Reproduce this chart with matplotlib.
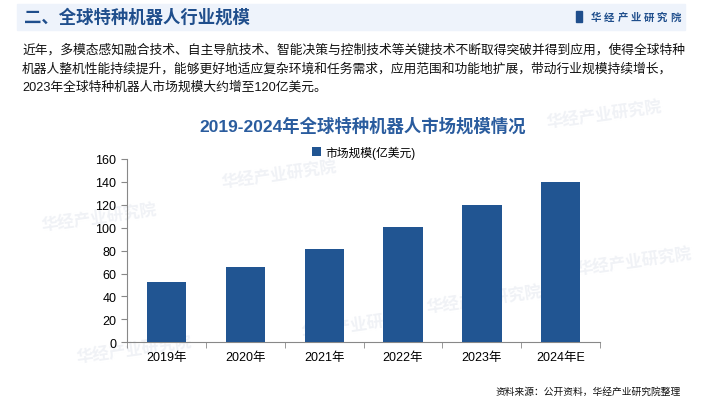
import numpy as np
import matplotlib.pyplot as plt
from matplotlib.patches import Rectangle

plt.rcParams['font.family'] = ['Liberation Sans', 'Noto Sans CJK SC', 'DejaVu Sans']

# datos
years = ['2019年', '2020年', '2021年', '2022年', '2023年', '2024年E']
market = [52.6, 65.7, 81.4, 100.6, 119.8, 139.9]
yticks = [0, 20, 40, 60, 80, 100, 120, 140, 160]

header = '二、全球特种机器人行业规模'
logo = '华经产业研究院'
para = ['近年，多模态感知融合技术、自主导航技术、智能决策与控制技术等关键技术不断取得突破并得到应用，使得全球特种',
        '机器人整机性能持续提升，能够更好地适应复杂环境和任务需求，应用范围和功能地扩展，带动行业规模持续增长，',
        '2023年全球特种机器人市场规模大约增至120亿美元。']
chart_title = '2019-2024年全球特种机器人市场规模情况'
legend_lbl = '市场规模(亿美元)'
source = '资料来源：公开资料，华经产业研究院整理'

W, H = 704, 402
fig = plt.figure(figsize=(W/100, H/100), dpi=100)
blue = '#215592'
dark = '#1F4E8C'

def fx(px):
    return px / W

def fy(py):
    return 1 - py / H

# franja del encabezado
fig.patches.append(Rectangle((fx(17), fy(31)), fx(668), 26/H, transform=fig.transFigure,
                             color='#EEF3FB', zorder=0))
fig.text(fx(24), fy(18), header, fontsize=12.5, fontweight='bold', color=dark,
         va='center', ha='left', family=['Noto Sans CJK SC'])
fig.patches.append(Rectangle((fx(576), fy(23)), fx(6), 11/H, transform=fig.transFigure,
                             color=dark, zorder=1))
for i, ch in enumerate(logo):
    fig.text(fx(591 + i*13.2), fy(18), ch, fontsize=7.5, fontweight='bold', color=dark,
             va='center', ha='left', family=['Noto Sans CJK SC'])

# parrafo
for i, line in enumerate(para):
    fig.text(fx(22), fy(50 + i*19), line, fontsize=9.2, color='#111111',
             va='center', ha='left')

# marcas de agua tenues
for (x, y) in [(40, 218), (220, 175), (300, 325), (75, 350), (425, 300), (545, 115), (575, 262)]:
    fig.text(fx(x), fy(y), logo, fontsize=12, fontweight='bold', color='#F0F2F6',
             rotation=8, va='center', ha='left', zorder=-5, family=['Noto Sans CJK SC'])

fig.text(fx(363), fy(126), chart_title, fontsize=12.5, fontweight='bold', color='#2A5C9E',
         ha='center', va='center')

ax = fig.add_axes([fx(127.3), fy(343.3), fx(600 - 127.3), (343.3 - 160) / H])
ax.patch.set_alpha(0)
x = np.arange(len(years))
ax.bar(x, market, width=0.5, color=blue, label=legend_lbl, zorder=3)
ax.set_xlim(-0.5, len(years) - 0.5)
ax.set_ylim(0, 160)
ax.set_yticks(yticks)
ax.set_xticks(x)
ax.set_xticklabels(years)
ax.set_xticks(np.arange(-0.5, len(years)), minor=True)
ax.tick_params(axis='x', which='major', length=0, labelsize=9, pad=6)
ax.tick_params(axis='x', which='minor', length=4, color='#888888', direction='out')
ax.tick_params(axis='y', length=4, color='#888888', labelsize=9, pad=4)
for s in ['top', 'right']:
    ax.spines[s].set_visible(False)
for s in ['left', 'bottom']:
    ax.spines[s].set_color('#888888')
    ax.spines[s].set_linewidth(0.8)

ax.legend(loc='upper center', bbox_to_anchor=(0.5, 1.10), frameon=False, fontsize=8.5,
          handlelength=0.75, handleheight=0.75, handletextpad=0.4, borderaxespad=0)

fig.text(fx(681), fy(392), source, fontsize=7, color='#111111', ha='right', va='center')

fig.savefig('out.png', dpi=100)
